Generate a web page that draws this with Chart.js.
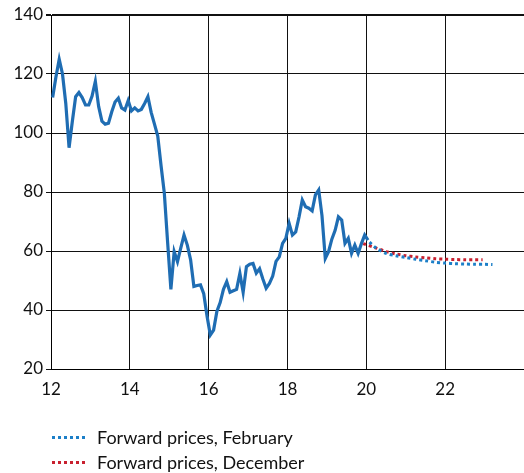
<!DOCTYPE html>
<html>
<head>
<meta charset="utf-8">
<script src="https://cdn.jsdelivr.net/npm/chart.js@4/dist/chart.umd.min.js"></script>
<style>
  html, body { margin: 0; padding: 0; background: #fff; }
  #wrap { position: relative; width: 524px; height: 473px; overflow: hidden; }
  #chart { position: absolute; left: 0; top: 0; }
  .legend { position: absolute; left: 52px; font: 18px Lato, "Open Sans", sans-serif; color: #111; }
  .legend .row { position: absolute; left: 0; white-space: nowrap; height: 20px; line-height: 20px; }
  .legend .swatch { position: absolute; left: 0; top: 9px; width: 36px; height: 3px; }
  .legend .txt { position: absolute; left: 45px; top: 0; }
</style>
</head>
<body>
<div id="wrap">
  <canvas id="chart" width="524" height="473"></canvas>
  <div class="legend" id="legend"></div>
</div>
<script>
// Monthly oil price from Jan 2012 to Jan 2020
const startYear = 12;
const priceValues = [
    112, 119, 125, 120, 110, 95, 104, 112.3, 113.7, 112, 109.5, 109.5,
    112.5, 117.5, 109, 104, 103, 103.3, 107.2, 110.5, 111.8, 108.5, 107.8, 111,
    107.5, 108.5, 107.5, 108, 110, 112.3, 107, 103, 99, 89, 79.6, 63,
    47, 59.8, 56.4, 61, 65.4, 62, 57, 48, 48.3, 48.5, 45.5, 38,
    31.5, 33.2, 39.5, 42.5, 47, 49.6, 46, 46.5, 47, 52.4, 46, 54.7,
    55.5, 55.8, 52.5, 54, 50.5, 47.4, 49, 51.5, 56.5, 58, 62.6, 64.3,
    69.4, 65.4, 66.5, 71.5, 77.3, 75, 74.5, 73.6, 79, 80.7, 72, 57.5,
    59.8, 64, 67, 71.6, 70.5, 62.6, 64.3, 59.2, 62, 59.2, 62.5, 65.4,
    63.7
];

// Forward curves
const fwdFebYears = [20.08, 20.25, 20.5, 20.75, 21, 21.25, 21.5, 21.75, 22, 22.25, 22.5, 22.75, 23, 23.2];
const fwdFebValues = [63.0, 61.0, 59.2, 58.4, 57.8, 57.2, 56.7, 56.2, 55.9, 55.7, 55.6, 55.5, 55.5, 55.4];
const fwdDecYears = [19.92, 20.25, 20.5, 20.75, 21, 21.25, 21.5, 21.75, 22, 22.25, 22.5, 22.75, 22.95];
const fwdDecValues = [62.5, 61.0, 59.8, 59.0, 58.4, 58.0, 57.7, 57.4, 57.2, 57.1, 57.0, 57.0, 57.0];

const seriesLabels = ['Forward prices, February', 'Forward prices, December'];
const xTickLabels = ['12', '14', '16', '18', '20', '22'];
const yTickValues = [20, 40, 60, 80, 100, 120, 140];

const colors = {
    price: '#1f6db3',
    feb: '#1c7fc8',
    dec: '#c8202f'
};

const font = { family: 'Lato, "Open Sans", sans-serif', size: 17 };

// mid-month positions
const pricePoints = priceValues.map((v, i) => ({ x: startYear + (i + 0.5) / 12, y: v }));
const febPoints = fwdFebYears.map((x, i) => ({ x: x, y: fwdFebValues[i] }));
const decPoints = fwdDecYears.map((x, i) => ({ x: x, y: fwdDecValues[i] }));

new Chart(document.getElementById('chart'), {
    type: 'line',
    data: {
        datasets: [
            {
                label: 'Price',
                data: pricePoints,
                borderColor: colors.price,
                borderWidth: 3.2,
                pointRadius: 0,
                tension: 0,
                borderJoinStyle: 'miter'
            },
            {
                label: seriesLabels[0],
                data: febPoints,
                borderColor: colors.feb,
                borderWidth: 3,
                borderDash: [3, 3],
                pointRadius: 0,
                tension: 0.3
            },
            {
                label: seriesLabels[1],
                data: decPoints,
                borderColor: colors.dec,
                borderWidth: 3,
                borderDash: [3, 3],
                pointRadius: 0,
                tension: 0.3
            }
        ]
    },
    options: {
        responsive: false,
        animation: false,
        layout: { padding: { top: 15, right: 0, bottom: 74, left: 0 } },
        plugins: {
            legend: { display: false },
            tooltip: { enabled: false }
        },
        scales: {
            x: {
                type: 'linear',
                min: 12,
                max: 24,
                border: { color: '#000', width: 1 },
                grid: { color: '#111', lineWidth: 1, drawTicks: false },
                ticks: {
                    stepSize: 2,
                    padding: 10,
                    color: '#111',
                    font: font,
                    maxRotation: 0,
                    callback: (v) => xTickLabels.includes(String(v)) ? String(v) : ''
                },
                afterFit: (scale) => {
                    scale.height = 30;
                    scale.paddingRight = 0;
                    scale.paddingLeft = 0;
                }
            },
            y: {
                min: 20,
                max: 140,
                border: { color: '#000', width: 1 },
                grid: {
                    color: '#111',
                    lineWidth: (ctx) => ctx.tick && ctx.tick.value === 140 ? 2 : 1,
                    tickLength: 5
                },
                ticks: {
                    stepSize: 20,
                    padding: 3,
                    color: '#111',
                    font: font,
                    callback: (v) => yTickValues.includes(v) ? String(v) : ''
                },
                afterFit: (scale) => { scale.width = 51; }
            }
        }
    }
});

// legend below the chart
const legendEl = document.getElementById('legend');
const legendColors = [colors.feb, colors.dec];
const legendTops = [427, 452];
seriesLabels.forEach((label, i) => {
    const row = document.createElement('div');
    row.className = 'row';
    row.style.top = legendTops[i] + 'px';
    const sw = document.createElement('div');
    sw.className = 'swatch';
    sw.style.background = 'repeating-linear-gradient(to right, ' + legendColors[i] + ' 0 3px, transparent 3px 6px)';
    const txt = document.createElement('span');
    txt.className = 'txt';
    txt.textContent = label;
    row.appendChild(sw);
    row.appendChild(txt);
    legendEl.appendChild(row);
});
</script>
</body>
</html>
